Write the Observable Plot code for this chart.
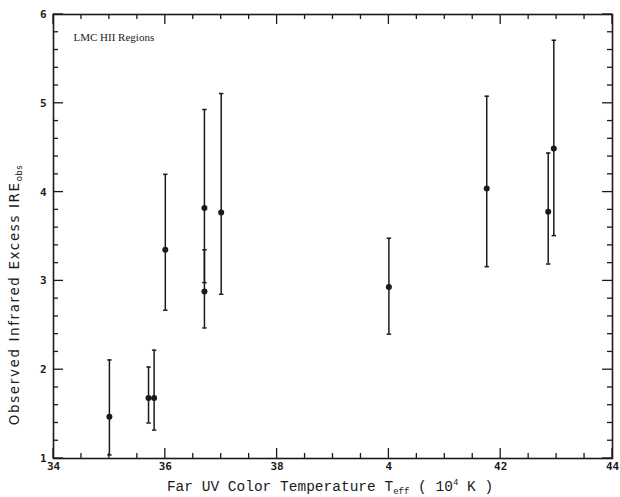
<!DOCTYPE html>
<html><head><meta charset="utf-8">
<script src="https://cdn.jsdelivr.net/npm/d3@7"></script>
<script src="https://cdn.jsdelivr.net/npm/@observablehq/plot@0.6"></script>
<style>body{margin:0;background:#fff}</style>
</head><body><div id="chart"></div>
<script>
// Data (LMC HII regions)
const temps   = [35.0, 35.7, 35.8, 36.0, 36.7, 36.7, 37.0, 40.0, 41.75, 42.85, 42.95];
const ire     = [1.47, 1.68, 1.68, 3.35, 3.82, 2.88, 3.77, 2.93, 4.04, 3.78, 4.49];
const ireLow  = [1.04, 1.40, 1.32, 2.67, 2.98, 2.47, 2.85, 2.40, 3.16, 3.19, 3.51];
const ireHigh = [2.11, 2.03, 2.22, 4.20, 4.93, 3.35, 5.11, 3.48, 5.08, 4.44, 5.71];

const xMajorTicks = [34, 36, 38, 40, 42, 44];
const xTickLabels = ["34", "36", "38", "4", "42", "44"];
const xMinorTicks = [34.5, 35, 35.5, 36.5, 37, 37.5, 38.5, 39, 39.5, 40.5, 41, 41.5, 42.5, 43, 43.5];
const yMajorTicks = [1, 2, 3, 4, 5, 6];
const yTickLabels = ["1", "2", "3", "4", "5", "6"];
const yMinorTicks = [1.2, 1.4, 1.6, 1.8, 2.2, 2.4, 2.6, 2.8, 3.2, 3.4, 3.6, 3.8, 4.2, 4.4, 4.6, 4.8, 5.2, 5.4, 5.6, 5.8];

const annotation = "LMC HII Regions";

const xDomain = [34, 44], yDomain = [1, 6];
const data = temps.map((t, i) => ({t, v: ire[i], lo: ireLow[i], hi: ireHigh[i]}));
const ink = "#1a1a1a";

const capSymbol = {draw(ctx, size) { const r = Math.sqrt(size / Math.PI); ctx.moveTo(-r, 0); ctx.lineTo(r, 0); }};
const xFmt = d => xTickLabels[xMajorTicks.indexOf(d)] ?? "";
const yFmt = d => yTickLabels[yMajorTicks.indexOf(d)] ?? "";

const chart = Plot.plot({
  width: 620, height: 497,
  marginLeft: 53, marginRight: 8, marginTop: 14, marginBottom: 39,
  style: {background: "#fff", color: ink},
  x: {domain: xDomain},
  y: {domain: yDomain},
  marks: [
    Plot.frame({stroke: ink, strokeWidth: 1.6}),
    Plot.axisX({anchor: "bottom", ticks: xMajorTicks, tickSize: 0, tickPadding: 4, tickFormat: xFmt,
      fontSize: 11, fontWeight: "bold", fontFamily: "DejaVu Sans Mono", label: null}),
    Plot.axisY({anchor: "left", ticks: yMajorTicks, tickSize: 0, tickPadding: 7, tickFormat: yFmt,
      fontSize: 11, fontWeight: "bold", fontFamily: "DejaVu Sans Mono", label: null}),
    Plot.ruleX(data, {x: "t", y1: "lo", y2: "hi", stroke: ink, strokeWidth: 1.5}),
    Plot.dot(data, {x: "t", y: "hi", symbol: capSymbol, r: 2.2, stroke: ink, strokeWidth: 1.5}),
    Plot.dot(data, {x: "t", y: "lo", symbol: capSymbol, r: 2.2, stroke: ink, strokeWidth: 1.5}),
    Plot.dot(data, {x: "t", y: "v", r: 3, fill: ink, stroke: null}),
    Plot.text([annotation], {frameAnchor: "top-left", dx: 20, dy: 19, textAnchor: "start", lineAnchor: "top",
      fontSize: 11, fontFamily: "Liberation Serif", fill: ink})
  ]
});
document.getElementById("chart").appendChild(chart);

const svg = d3.select(chart);

// Inward ticks on all four sides, placed with Plot's own scales
const sx = chart.scale("x"), sy = chart.scale("y");
const X = v => sx.apply(v), Y = v => sy.apply(v);
const x0 = X(xDomain[0]), x1 = X(xDomain[1]), y0 = Y(yDomain[0]), y1 = Y(yDomain[1]);
const tg = svg.append("g").attr("stroke", ink).attr("stroke-width", 1.3);
const addX = (ticks, len) => ticks.forEach(v => {
  tg.append("line").attr("x1", X(v)).attr("x2", X(v)).attr("y1", y0).attr("y2", y0 - len);
  tg.append("line").attr("x1", X(v)).attr("x2", X(v)).attr("y1", y1).attr("y2", y1 + len);
});
const addY = (ticks, len) => ticks.forEach(v => {
  tg.append("line").attr("y1", Y(v)).attr("y2", Y(v)).attr("x1", x0).attr("x2", x0 + len);
  tg.append("line").attr("y1", Y(v)).attr("y2", Y(v)).attr("x1", x1).attr("x2", x1 - len);
});
addX(xMajorTicks, 10); addX(xMinorTicks, 5);
addY(yMajorTicks, 10); addY(yMinorTicks, 5);

// Axis titles with sub/superscripts
const xl = svg.append("text")
  .attr("x", 330).attr("y", 491).attr("text-anchor", "middle")
  .attr("font-family", "Liberation Mono").attr("font-size", 14.5).attr("fill", ink);
xl.append("tspan").text("Far UV Color Temperature T");
xl.append("tspan").attr("font-size", 9).attr("dy", 3).text("eff");
xl.append("tspan").attr("dy", -3).text(" ( 10");
xl.append("tspan").attr("font-size", 9).attr("dy", -6).text("4");
xl.append("tspan").attr("dy", 6).text(" K )");

const yl = svg.append("text")
  .attr("transform", "translate(19,295) rotate(-90)").attr("text-anchor", "middle")
  .attr("font-family", "DejaVu Sans").attr("font-size", 13.5).attr("letter-spacing", 1.6).attr("fill", ink);
yl.append("tspan").text("Observed Infrared Excess IRE");
yl.append("tspan").attr("font-size", 8.5).attr("dy", 3).attr("letter-spacing", 0.5).text("obs");
</script>
</body></html>
